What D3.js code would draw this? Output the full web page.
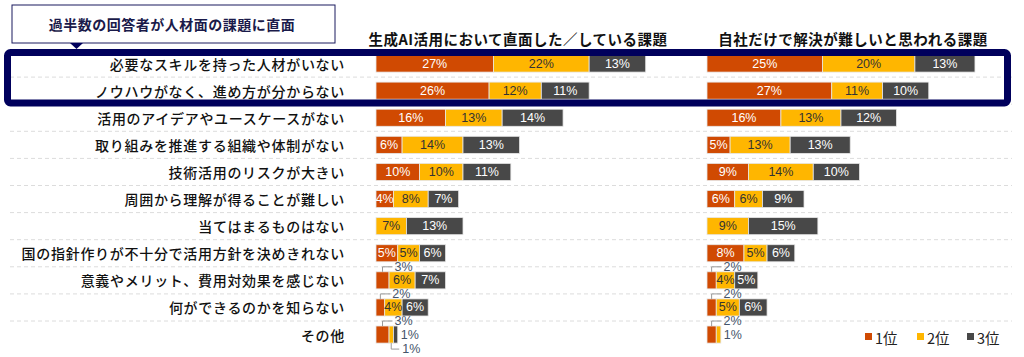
<!DOCTYPE html>
<html><head><meta charset="utf-8">
<script src="https://cdn.jsdelivr.net/npm/d3@7/dist/d3.min.js"></script>
<style>html,body{margin:0;padding:0;background:#fff;}svg{display:block;}</style>
</head><body><svg id="c" width="1024" height="357"></svg>
<script>
const categories = ["必要なスキルを持った人材がいない","ノウハウがなく、進め方が分からない","活用のアイデアやユースケースがない","取り組みを推進する組織や体制がない","技術活用のリスクが大きい","周囲から理解が得ることが難しい","当てはまるものはない","国の指針作りが不十分で活用方針を決めきれない","意義やメリット、費用対効果を感じない","何ができるのかを知らない","その他"];
const seriesNames = ["1位","2位","3位"];
const left1 = [27,26,16,6,10,4,0,5,3,2,3];
const left2 = [22,12,13,14,10,8,7,5,6,4,1];
const left3 = [13,11,14,13,11,7,13,6,7,6,1];
const right1 = [25,27,16,5,9,6,0,8,2,2,2];
const right2 = [20,11,13,13,14,6,9,5,4,5,1];
const right3 = [13,10,12,13,10,9,15,6,5,6,0];
const panelTitles = ["生成AI活用において直面した／している課題","自社だけで解決が難しいと思われる課題"];
const calloutText = "過半数の回答者が人材面の課題に直面";

const colors = ["#D04A02","#FFB600","#484848"];
const textColors = ["#fff","#333","#fff"];
const JP = "'Noto Sans CJK JP','Noto Sans',sans-serif";
const LAT = "'Liberation Sans',Arial,sans-serif";

const svg = d3.select("#c");
const y = d3.scaleBand().domain(categories).range([50, 50+11*27.1]).paddingInner(0.37).paddingOuter(0.185);
const step = y.step();

// separators
categories.slice(1).forEach((c,i)=>{
  const yy = y(c) - y.paddingInner()*step/2;
  svg.append("line").attr("x1",10).attr("x2",1012).attr("y1",yy).attr("y2",yy)
    .attr("stroke","#dcdcdc").attr("stroke-dasharray","4,3").attr("stroke-width",1);
});

// category labels
svg.append("g").selectAll("text").data(categories).join("text")
  .attr("x",345).attr("y",d=>y(d)+y.bandwidth()/2).attr("text-anchor","end")
  .attr("dominant-baseline","central").attr("font-family",JP).attr("font-size",14)
  .attr("font-weight",500).attr("letter-spacing","0.7px").attr("fill","#111").text(d=>d);

const panels = [
  {x: d3.scaleLinear().domain([0,100]).range([376,376+435]), s:[left1,left2,left3], title: panelTitles[0], tx: 518},
  {x: d3.scaleLinear().domain([0,100]).range([707,707+462]), s:[right1,right2,right3], title: panelTitles[1], tx: 853}
];

panels.forEach(p=>{
  svg.append("text").attr("x",p.tx).attr("y",38).attr("text-anchor","middle")
    .attr("dominant-baseline","central").attr("font-family",JP).attr("font-weight","bold")
    .attr("font-size",14.5).attr("letter-spacing","0.5px").attr("fill","#111").text(p.title);
  const g = svg.append("g");
  categories.forEach((c,i)=>{
    let cum = 0;
    const segs = p.s.map((arr,k)=>{const s={k, v:arr[i], x0:cum}; cum+=arr[i]; return s;});
    const top = y(c), bh = y.bandwidth(), cy = top+bh/2;
    segs.forEach(s=>{
      if(s.v<=0) return;
      const x0 = p.x(s.x0), x1 = p.x(s.x0+s.v);
      g.append("rect").attr("x",x0).attr("y",top).attr("width",x1-x0).attr("height",bh)
        .attr("fill",colors[s.k]).attr("stroke","#e6e6e6").attr("stroke-width",0.8);
    });
    segs.forEach(s=>{
      if(s.v<=0) return;
      const x0 = p.x(s.x0), x1 = p.x(s.x0+s.v), xc=(x0+x1)/2;
      const lab = s.v+"%";
      if(s.v>=4){
        g.append("text").attr("x",xc).attr("y",cy).attr("text-anchor","middle")
          .attr("dominant-baseline","central").attr("font-family",LAT).attr("font-size",12.5)
          .attr("fill",textColors[s.k]).text(lab);
      } else {
        const hasNext = segs.slice(s.k+1).some(t=>t.v>0);
        let path, tx, ty;
        if(s.k===0){
          path=`M${xc},${top} V${top-5} H${xc+10}`; tx=xc+12; ty=top-5;
        } else if(hasNext){
          path=`M${xc},${top+bh} V${top+bh+6} H${xc+8}`; tx=xc+11; ty=top+bh+6;
        } else {
          path=null; tx=x1+3; ty=cy;
        }
        if(path) g.append("path").attr("d",path).attr("fill","none").attr("stroke","#9a9a9a").attr("stroke-width",1);
        g.append("text").attr("x",tx).attr("y",ty).attr("dominant-baseline","central")
          .attr("font-family",LAT).attr("font-size",12.5).attr("fill","#44546A").text(lab);
      }
    });
  });
});

// highlight box
svg.append("rect").attr("x",7.5).attr("y",52.5).attr("width",1000).attr("height",50.5)
  .attr("rx",3).attr("fill","none").attr("stroke","#00005C").attr("stroke-width",7);

// callout
svg.append("rect").attr("x",12).attr("y",5).attr("width",323).attr("height",38)
  .attr("fill","#fff").attr("stroke","#1a1a5e").attr("stroke-width",1);
svg.append("path").attr("d","M70,43 L83,43 L76.5,49 Z").attr("fill","#00005C");
svg.append("text").attr("x",172).attr("y",24).attr("text-anchor","middle").attr("dominant-baseline","central")
  .attr("font-family",JP).attr("font-weight","bold").attr("font-size",14).attr("letter-spacing","0.5px")
  .attr("fill","#1a1a4a").text(calloutText);

// legend
const lx = [865,917,967];
seriesNames.forEach((n,k)=>{
  svg.append("rect").attr("x",lx[k]).attr("y",333).attr("width",7).attr("height",7).attr("fill",colors[k]);
  svg.append("text").attr("x",lx[k]+10).attr("y",337).attr("dominant-baseline","central")
    .attr("font-family",JP).attr("font-size",14.5).attr("fill","#222").text(n);
});
</script></body></html>
